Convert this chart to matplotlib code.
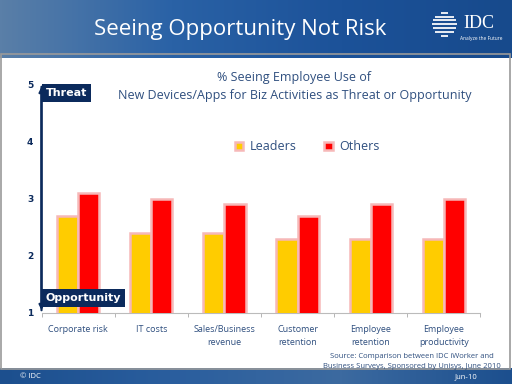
import numpy as np
import matplotlib
matplotlib.use('Agg')
import matplotlib.pyplot as plt
from matplotlib.patches import Rectangle, FancyArrowPatch

plt.rcParams['font.family'] = ['Open Sans', 'DejaVu Sans']

categories = ['Corporate risk', 'IT costs', 'Sales/Business\nrevenue',
              'Customer\nretention', 'Employee\nretention', 'Employee\nproductivity']
leaders = [2.7, 2.4, 2.4, 2.3, 2.3, 2.3]
others = [3.1, 3.0, 2.9, 2.7, 2.9, 3.0]
yticks = [1, 2, 3, 4, 5]

navy = '#0b2a5c'
textblue = '#2f4f7f'

fig = plt.figure(figsize=(5.12, 3.84), dpi=100)

# header band with gradient
hdr = fig.add_axes([0, 1 - 58 / 384, 1, 58 / 384])
grad = np.linspace(0, 1, 256).reshape(1, -1)
cmap = matplotlib.colors.LinearSegmentedColormap.from_list('h', ['#5a7fa8', '#2a62a6', '#1c5299', '#174a8c'])
hdr.imshow(grad, aspect='auto', cmap=cmap, extent=[0, 1, 0, 1])
hdr.set_xlim(0, 1)
hdr.set_ylim(0, 1)
hdr.set_axis_off()
hdr.text(0.47, 0.5, 'Seeing Opportunity Not Risk', color='white', fontsize=16,
         ha='center', va='center')
# little striped globe of the logo
for k, yy in enumerate(np.linspace(0.38, 0.78, 7)):
    half = 0.024 * np.sqrt(max(0.0, 1 - ((yy - 0.58) / 0.21) ** 2))
    hdr.plot([0.868 - half, 0.868 + half], [yy, yy], color='white', lw=1.4,
             alpha=0.9, solid_capstyle='butt')
hdr.text(0.935, 0.6, 'IDC', color='white', fontsize=13, family='Liberation Serif',
         ha='center', va='center')
hdr.text(0.94, 0.33, 'Analyze the Future', color='white', fontsize=3.5,
         ha='center', va='center')

# footer band
ftr = fig.add_axes([0, 0, 1, 16 / 384])
ftr.imshow(grad, aspect='auto', cmap=matplotlib.colors.LinearSegmentedColormap.from_list(
    'f', ['#1c4f8e', '#2a5e9e', '#3c6aa0', '#1c4f8e']), extent=[0, 1, 0, 1])
ftr.set_axis_off()
ftr.text(0.04, 0.45, '\u00a9 IDC', color='white', fontsize=5.5, ha='left', va='center')
ftr.text(0.91, 0.45, 'Jun-10', color='white', fontsize=5.5, ha='center', va='center')

# slide border
fig.patches.append(Rectangle((0.002, 0.04), 0.994, 0.82, transform=fig.transFigure,
                             fill=False, edgecolor='#9a9a9a', linewidth=1.2))

ax = fig.add_axes([41.5 / 512, 1 - 313 / 384, 439 / 512, 229 / 384])
x = np.arange(len(categories))
w = 0.29
ax.bar(x - w / 2, leaders, w, bottom=0, color='#ffcc00', edgecolor='#f6b8b8',
       linewidth=1.8, label='Leaders', zorder=3)
ax.bar(x + w / 2, others, w, bottom=0, color='#ff0000', edgecolor='#f6b8b8',
       linewidth=1.8, label='Others', zorder=3)
ax.set_ylim(1, 5)
ax.set_xlim(-0.5, len(categories) - 0.5)
ax.set_yticks(yticks)
ax.set_yticklabels([str(t) for t in yticks], fontsize=6.5, fontweight='bold',
                   color=navy, family='DejaVu Sans')
ax.tick_params(axis='y', length=0, pad=6)
ax.set_xticks(x)
ax.set_xticklabels(categories, fontsize=6.5, color=textblue, linespacing=1.5)
ax.set_xticks(np.arange(len(categories) + 1) - 0.5, minor=True)
ax.tick_params(axis='x', which='major', length=0, pad=9)
ax.tick_params(axis='x', which='minor', length=3, color='#aaaaaa')
for s in ['top', 'right', 'left']:
    ax.spines[s].set_visible(False)
ax.spines['bottom'].set_color('#bbbbbb')

# vertical arrow as the y axis
ax.add_patch(FancyArrowPatch((-0.5, 1.0), (-0.5, 5.0), arrowstyle='-|>',
                             mutation_scale=7, color=navy, linewidth=1.6,
                             clip_on=False, zorder=5))
ax.add_patch(FancyArrowPatch((-0.5, 5.0), (-0.5, 1.0), arrowstyle='-|>',
                             mutation_scale=7, color=navy, linewidth=1.6,
                             clip_on=False, zorder=5))
ax.text(-0.44, 4.84, 'Threat', color='white', fontsize=8, fontweight='bold',
        ha='left', va='center', zorder=6, family='DejaVu Sans',
        bbox=dict(boxstyle='square,pad=0.35', facecolor=navy, edgecolor='none'))
ax.text(-0.44, 1.26, 'Opportunity', color='white', fontsize=8, fontweight='bold',
        ha='left', va='center', zorder=6, family='DejaVu Sans',
        bbox=dict(boxstyle='square,pad=0.35', facecolor=navy, edgecolor='none'))

fig.text(0.575, 1 - 77 / 384, '% Seeing Employee Use of', color=textblue, fontsize=9,
         ha='center', va='center')
fig.text(0.575, 1 - 95 / 384, 'New Devices/Apps for Biz Activities as Threat or Opportunity',
         color=textblue, fontsize=9, ha='center', va='center')

ax.legend(loc='center', bbox_to_anchor=(0.605, 0.725), ncol=2, frameon=False,
          fontsize=9, labelcolor=textblue, handlelength=0.7, handleheight=0.7,
          columnspacing=2.2, handletextpad=0.5)

fig.text(0.805, 1 - 356 / 384, 'Source: Comparison between IDC iWorker and',
         color=textblue, fontsize=5.5, ha='center', va='center')
fig.text(0.805, 1 - 367 / 384, 'Business Surveys, Sponsored by Unisys, June 2010',
         color=textblue, fontsize=5.5, ha='center', va='center')

fig.savefig('out.png', dpi=100)
